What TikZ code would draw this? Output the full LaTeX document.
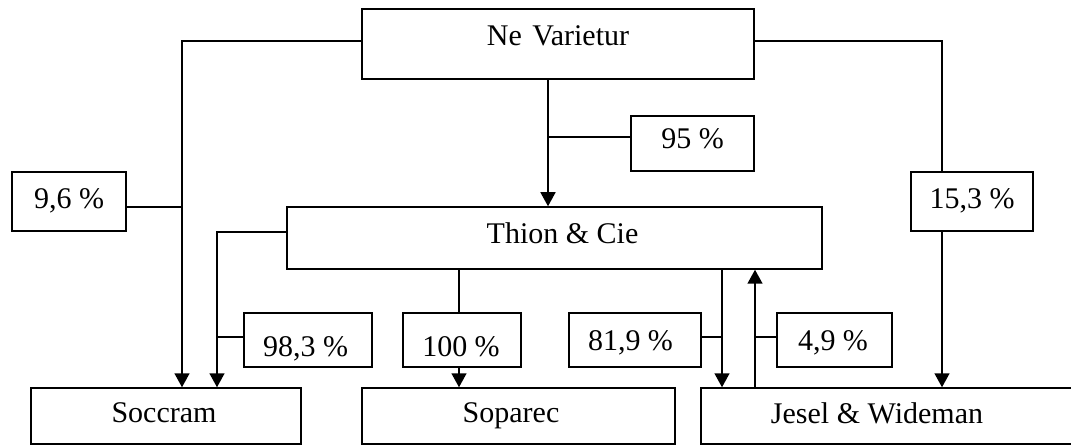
\documentclass[tikz,border=0pt]{standalone}
\usepackage{fontspec}
\setmainfont{Liberation Serif}
\usetikzlibrary{arrows.meta}
\newcommand\hs[2]{\hspace*{#1pt}#2\hspace*{-#1pt}}
\begin{document}
\begin{tikzpicture}[x=1pt,y=-1pt,
  box/.style={draw, line width=1.5pt, inner sep=0pt, font=\fontsize{30}{35}\selectfont, text height=20pt, text depth=0pt},
  link/.style={line width=1.5pt},
  arr/.style={link, -{Triangle[width=15pt,length=14pt]}}]
\clip (0,0) rectangle (1071,446);
\fill[white] (0,0) rectangle (1071,446);
% boxes
\node[box, minimum width=392pt, minimum height=70pt, text depth=16pt] (NV) at (558,44) {Ne\hspace{3pt} Varietur};
\node[box, minimum width=123pt, minimum height=55pt, text depth=9pt] (p95) at (692.5,143.5) {95 \%};
\node[box, minimum width=114pt, minimum height=59pt, text depth=5pt] (p96) at (69,201.5) {9,6 \%};
\node[box, minimum width=122pt, minimum height=59pt, text depth=5pt] (p153) at (972,201.5) {15,3 \%};
\node[box, minimum width=535pt, minimum height=62pt, text depth=8pt] (TC) at (554.5,238) {\hs{8}{Thion \& Cie}};
\node[box, minimum width=128pt, minimum height=54pt, text height=32pt] (p983) at (308,340) {\hs{-2.5}{98,3 \%}};
\node[box, minimum width=118pt, minimum height=54pt, text height=32pt] (p100) at (462,340) {\hs{-1}{100 \%}};
\node[box, minimum width=132pt, minimum height=54pt, text height=22pt] (p819) at (635,340) {\hs{-4.5}{81,9 \%}};
\node[box, minimum width=115pt, minimum height=54pt, text height=22pt] (p49) at (834.5,340) {\hs{-1.5}{4,9 \%}};
\node[box, minimum width=270pt, minimum height=56pt, text depth=8pt] (SC) at (166,416) {\hs{-2}{Soccram}};
\node[box, minimum width=313pt, minimum height=56pt, text depth=7pt] (SP) at (518.5,416) {\hs{-7.5}{Soparec}};
\node[box, minimum width=379pt, minimum height=56pt, text depth=6pt] (JW) at (890.5,416) {\hs{-13.5}{Jesel \& Wideman}};
% bend coordinates
\coordinate (bL) at (182,41);
\coordinate (bL2) at (182,207);
\coordinate (bR) at (942,41);
\coordinate (mNV) at (548,137);
\coordinate (bT) at (217,232);
\coordinate (bT2) at (217,337);
\coordinate (mS) at (459,300);
\coordinate (mJ) at (722,337);
\coordinate (mU) at (755,337);
% connectors
\draw[arr] (NV.west |- bL) -- (bL) -- (bL |- SC.north);
\draw[link] (p96.east |- bL2) -- (bL2);
\draw[arr] (NV.south -| mNV) -- (TC.north -| mNV);
\draw[link] (p95.west |- mNV) -- (mNV);
\draw[link] (NV.east |- bR) -- (bR) -- (bR |- p153.north);
\draw[arr] (p153.south -| bR) -- (JW.north -| bR);
\draw[arr] (TC.west |- bT) -- (bT) -- (bT |- SC.north);
\draw[link] (p983.west |- bT2) -- (bT2);
\draw[link] (TC.south -| mS) -- (p100.north -| mS);
\draw[arr] (p100.south -| mS) -- (SP.north -| mS);
\draw[arr] (TC.south -| mJ) -- (JW.north -| mJ);
\draw[link] (p819.east |- mJ) -- (mJ);
\draw[arr] (JW.north -| mU) -- (TC.south -| mU);
\draw[link] (p49.west |- mU) -- (mU);
\end{tikzpicture}
\end{document}
